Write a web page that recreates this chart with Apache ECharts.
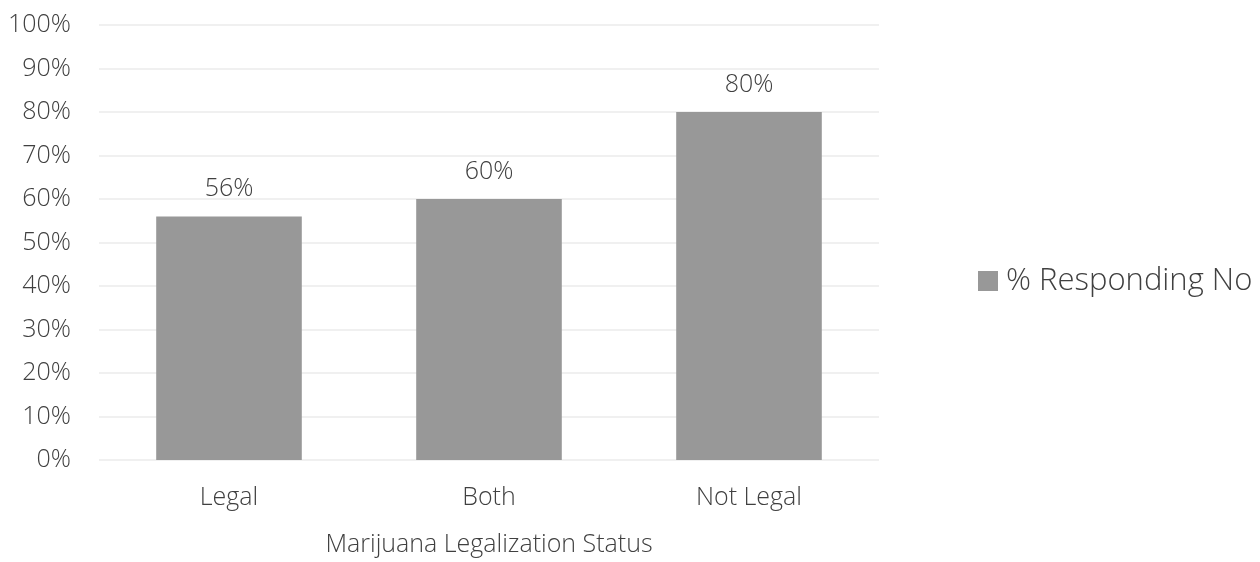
<!DOCTYPE html>
<html>
<head>
<meta charset="utf-8">
<script src="https://cdn.jsdelivr.net/npm/echarts@6/dist/echarts.min.js"></script>
<style>
  html, body { margin: 0; padding: 0; background: #ffffff; }
  #chart { width: 1260px; height: 562px; }
</style>
</head>
<body>
<div id="chart"></div>
<script>
// Share of respondents answering "No", by state legalization status
const categories = ['Legal', 'Both', 'Not Legal'];
const respondingNo = [56, 60, 80];
const seriesName = '% Responding No';
const axisTitle = 'Marijuana Legalization Status';

const textColor = '#404040';
const fontFamily = '"Open Sans", "Noto Sans", sans-serif';
const fontWeight = 300;

const chart = echarts.init(document.getElementById('chart'), null, { renderer: 'canvas' });
chart.setOption({
  animation: false,
  backgroundColor: '#ffffff',
  textStyle: { fontFamily: fontFamily, color: textColor },
  grid: { left: 99, right: 381, top: 25, bottom: 94, containLabel: false },
  legend: {
    data: [seriesName],
    left: 973,
    top: 'middle',
    orient: 'vertical',
    icon: 'rect',
    itemWidth: 20,
    itemHeight: 20,
    textStyle: { color: textColor, fontSize: 31, fontWeight: fontWeight, fontFamily: fontFamily, padding: [0, 0, 0, 3] }
  },
  xAxis: {
    type: 'category',
    data: categories,
    name: axisTitle,
    nameLocation: 'middle',
    nameGap: 72,
    nameTextStyle: { color: textColor, fontSize: 25, fontWeight: fontWeight, fontFamily: fontFamily },
    axisLine: { show: false },
    axisTick: { show: false },
    axisLabel: { color: textColor, fontSize: 25, fontWeight: fontWeight, margin: 25, fontFamily: fontFamily }
  },
  yAxis: {
    type: 'value',
    min: 0,
    max: 100,
    interval: 10,
    axisLine: { show: false },
    axisTick: { show: false },
    axisLabel: { formatter: '{value}%', color: textColor, fontSize: 25, fontWeight: fontWeight, margin: 28, fontFamily: fontFamily },
    splitLine: { lineStyle: { color: '#f0f0f0', width: 2 } }
  },
  series: [{
    name: seriesName,
    type: 'bar',
    data: respondingNo,
    barWidth: '56%',
    itemStyle: { color: '#989898' },
    label: {
      show: true,
      position: 'top',
      distance: 15,
      formatter: '{c}%',
      color: textColor,
      fontSize: 25,
      fontWeight: fontWeight,
      fontFamily: fontFamily
    }
  }]
});
</script>
</body>
</html>
